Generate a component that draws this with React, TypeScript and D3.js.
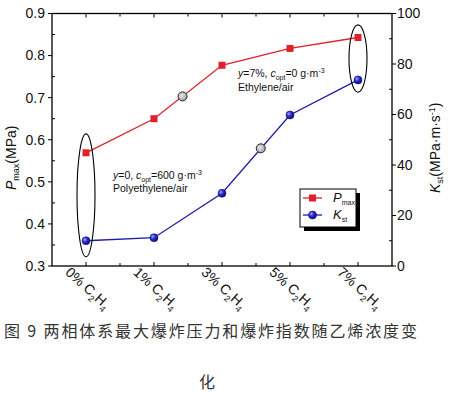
import React from 'react';
import * as d3 from 'd3';

// data
const categories = ['0%', '1%', '3%', '5%', '7%'];
const pmaxValues = [0.569, 0.65, 0.777, 0.817, 0.843];
const kstValues = [10.0, 11.2, 28.8, 59.8, 73.7];
// grey marks sitting on the lines (position as fractional category index)
const pmaxMark = { at: 1.42, value: 0.703 };
const kstMark = { at: 2.57, value: 46.6 };
// ellipses: category index, and span on the left axis
const ellipses = [
  { at: 0, from: 0.322, to: 0.614 },
  { at: 4, from: 0.713, to: 0.873 },
];
const leftTicks = [0.3, 0.4, 0.5, 0.6, 0.7, 0.8, 0.9];
const rightTicks = [0, 20, 40, 60, 80, 100];

const W = 457;
const H = 393;
const margin = { top: 13.5, right: 65, bottom: 127, left: 52 };
const font = '"Liberation Sans", Arial, sans-serif';
const RED = '#e0202a';
const BLUE = '#1c1ca8';

const App = () => {
  const x = d3.scalePoint<string>()
    .domain(categories)
    .range([margin.left, W - margin.right])
    .padding(0.5);
  const xi = d3.scaleLinear()
    .domain([0, categories.length - 1])
    .range([x(categories[0])!, x(categories[categories.length - 1])!]);
  const yL = d3.scaleLinear().domain([0.3, 0.9]).range([H - margin.bottom, margin.top]);
  const yR = d3.scaleLinear().domain([0, 100]).range([H - margin.bottom, margin.top]);

  const x0 = margin.left;
  const x1 = W - margin.right;
  const y0 = H - margin.bottom;
  const y1 = margin.top;

  const pLine = d3.line<number>().x((_, i) => x(categories[i])!).y(d => yL(d));
  const kLine = d3.line<number>().x((_, i) => x(categories[i])!).y(d => yR(d));

  const minorX = d3.range(0, categories.length - 0.5, 0.5).filter(v => v % 1 !== 0);
  const minorL = leftTicks.slice(0, -1).map(t => t + 0.05);
  const minorR = rightTicks.slice(0, -1).map(t => t + 10);

  const square = (cx: number, cy: number, key: string) => (
    <rect key={key} x={cx - 3.5} y={cy - 3.5} width={7} height={7} fill={RED} />
  );
  const ball = (cx: number, cy: number, key: string) => (
    <circle key={key} cx={cx} cy={cy} r={4} fill="url(#ballGrad)" stroke="#10106e" strokeWidth={0.6} />
  );

  return (
    <svg width={W} height={H} style={{ position: 'absolute', left: 0, top: 0, background: '#fff' }}>
      <defs>
        <radialGradient id="ballGrad" cx="0.35" cy="0.35" r="0.7">
          <stop offset="0" stopColor="#9fa8ff" />
          <stop offset="0.45" stopColor="#2a2ad0" />
          <stop offset="1" stopColor="#0c0c70" />
        </radialGradient>
        <radialGradient id="greyGrad" cx="0.4" cy="0.4" r="0.7">
          <stop offset="0" stopColor="#e6e6e6" />
          <stop offset="1" stopColor="#9a9a9a" />
        </radialGradient>
      </defs>

      {/* frame */}
      <rect x={x0} y={y1} width={x1 - x0} height={y0 - y1} fill="none" stroke="#000" strokeWidth={1.3} />

      {/* x ticks, inward on bottom and top */}
      {categories.map(c => (
        <g key={'xt' + c}>
          <line x1={x(c)} x2={x(c)} y1={y0} y2={y0 - 4} stroke="#000" />
          <line x1={x(c)} x2={x(c)} y1={y1} y2={y1 + 4} stroke="#000" />
        </g>
      ))}
      {minorX.map(v => (
        <g key={'xm' + v}>
          <line x1={xi(v)} x2={xi(v)} y1={y0} y2={y0 - 3} stroke="#000" />
          <line x1={xi(v)} x2={xi(v)} y1={y1} y2={y1 + 3} stroke="#000" />
        </g>
      ))}

      {/* left axis */}
      {leftTicks.map(t => (
        <g key={'l' + t}>
          <line x1={x0} x2={x0 - 4} y1={yL(t)} y2={yL(t)} stroke="#000" />
          <text x={x0 - 7} y={yL(t)} dy="0.35em" textAnchor="end" fontFamily={font} fontSize={14} fill="#111">
            {t.toFixed(1)}
          </text>
        </g>
      ))}
      {minorL.map(t => (
        <line key={'lm' + t} x1={x0} x2={x0 + 3} y1={yL(t)} y2={yL(t)} stroke="#000" />
      ))}

      {/* right axis */}
      {rightTicks.map(t => (
        <g key={'r' + t}>
          <line x1={x1} x2={x1 + 4} y1={yR(t)} y2={yR(t)} stroke="#000" />
          <text x={x1 + 5} y={yR(t)} dy="0.35em" fontFamily={font} fontSize={14} fill="#111">
            {t}
          </text>
        </g>
      ))}
      {minorR.map(t => (
        <line key={'rm' + t} x1={x1} x2={x1 - 3} y1={yR(t)} y2={yR(t)} stroke="#000" />
      ))}

      {/* x labels */}
      {categories.map(c => (
        <text
          key={'xl' + c}
          transform={`translate(${x(c)! + 2},${y0 + 22}) rotate(42)`}
          textAnchor="middle"
          dy="0.35em"
          fontFamily={font}
          fontSize={14}
          fill="#111"
        >
          {c} C
          <tspan fontSize={9} dy={4}>2</tspan>
          <tspan dy={-4}>H</tspan>
          <tspan fontSize={9} dy={4}>4</tspan>
        </text>
      ))}

      {/* axis titles */}
      <text transform={`translate(16,${(y0 + y1) / 2 + 18}) rotate(-90)`} textAnchor="middle" fontFamily={font} fontSize={14} fill="#111">
        <tspan fontStyle="italic">P</tspan>
        <tspan fontSize={9} dy={3}>max</tspan>
        <tspan dy={-3}>(MPa)</tspan>
      </text>
      <text transform={`translate(440,${(y0 + y1) / 2 + 8}) rotate(-90)`} textAnchor="middle" fontFamily={font} fontSize={14} fill="#111">
        <tspan fontStyle="italic">K</tspan>
        <tspan fontSize={9} dy={3}>st</tspan>
        <tspan dy={-3}>(MPa·m·s</tspan>
        <tspan fontSize={9} dy={-5}>-1</tspan>
        <tspan dy={5}>)</tspan>
      </text>

      {/* series */}
      <path d={pLine(pmaxValues)!} fill="none" stroke={RED} strokeWidth={1.3} />
      <path d={kLine(kstValues)!} fill="none" stroke={BLUE} strokeWidth={1.3} />
      {pmaxValues.map((v, i) => square(x(categories[i])!, yL(v), 'p' + i))}
      {kstValues.map((v, i) => ball(x(categories[i])!, yR(v), 'k' + i))}
      <circle cx={xi(pmaxMark.at)} cy={yL(pmaxMark.value)} r={4.5} fill="url(#greyGrad)" stroke="#222" strokeWidth={1} />
      <circle cx={xi(kstMark.at)} cy={yR(kstMark.value)} r={4.5} fill="url(#greyGrad)" stroke="#222" strokeWidth={1} />

      {/* ellipses */}
      {ellipses.map((e, i) => (
        <ellipse
          key={'e' + i}
          cx={xi(e.at)}
          cy={(yL(e.from) + yL(e.to)) / 2}
          rx={9}
          ry={(yL(e.from) - yL(e.to)) / 2}
          fill="none"
          stroke="#000"
          strokeWidth={1.1}
        />
      ))}

      {/* annotations */}
      <g fontFamily={font} fontSize={10.5} fill="#111">
        <text x={113} y={179}>
          <tspan fontStyle="italic">y</tspan>=0, <tspan fontStyle="italic">c</tspan>
          <tspan fontSize={7} dy={2.5}>opt</tspan>
          <tspan dy={-2.5}>=600 g·m</tspan>
          <tspan fontSize={7} dy={-4}>-3</tspan>
        </text>
        <text x={113} y={192}>Polyethylene/air</text>
        <text x={238} y={77}>
          <tspan fontStyle="italic">y</tspan>=7%, <tspan fontStyle="italic">c</tspan>
          <tspan fontSize={7} dy={2.5}>opt</tspan>
          <tspan dy={-2.5}>=0 g·m</tspan>
          <tspan fontSize={7} dy={-4}>-3</tspan>
        </text>
        <text x={238} y={91}>Ethylene/air</text>
      </g>

      {/* legend */}
      <g>
        <rect x={304} y={193} width={56} height={38} fill="#000" />
        <rect x={300} y={189} width={56} height={38} fill="#fff" stroke="#000" strokeWidth={1} />
        <line x1={303} x2={322} y1={198} y2={198} stroke={RED} strokeWidth={1.3} />
        {square(312.5, 198, 'lp')}
        <line x1={303} x2={322} y1={215} y2={215} stroke={BLUE} strokeWidth={1.3} />
        {ball(312.5, 215, 'lk')}
        <text x={333} y={202} fontFamily={font} fontSize={13} fill="#111">
          <tspan fontStyle="italic">P</tspan>
          <tspan fontSize={7} dy={3}>max</tspan>
        </text>
        <text x={333} y={219} fontFamily={font} fontSize={13} fill="#111">
          <tspan fontStyle="italic">K</tspan>
          <tspan fontSize={7} dy={3}>st</tspan>
        </text>
      </g>

      {/* caption */}
      <g fontFamily='"Noto Sans CJK SC", sans-serif' fontSize={16} fill="#333">
        <text x={4} y={337} textLength={413} lengthAdjust="spacing">图 9 两相体系最大爆炸压力和爆炸指数随乙烯浓度变</text>
        <text x={207} y={388} textAnchor="middle">化</text>
      </g>
    </svg>
  );
};

export default App;
